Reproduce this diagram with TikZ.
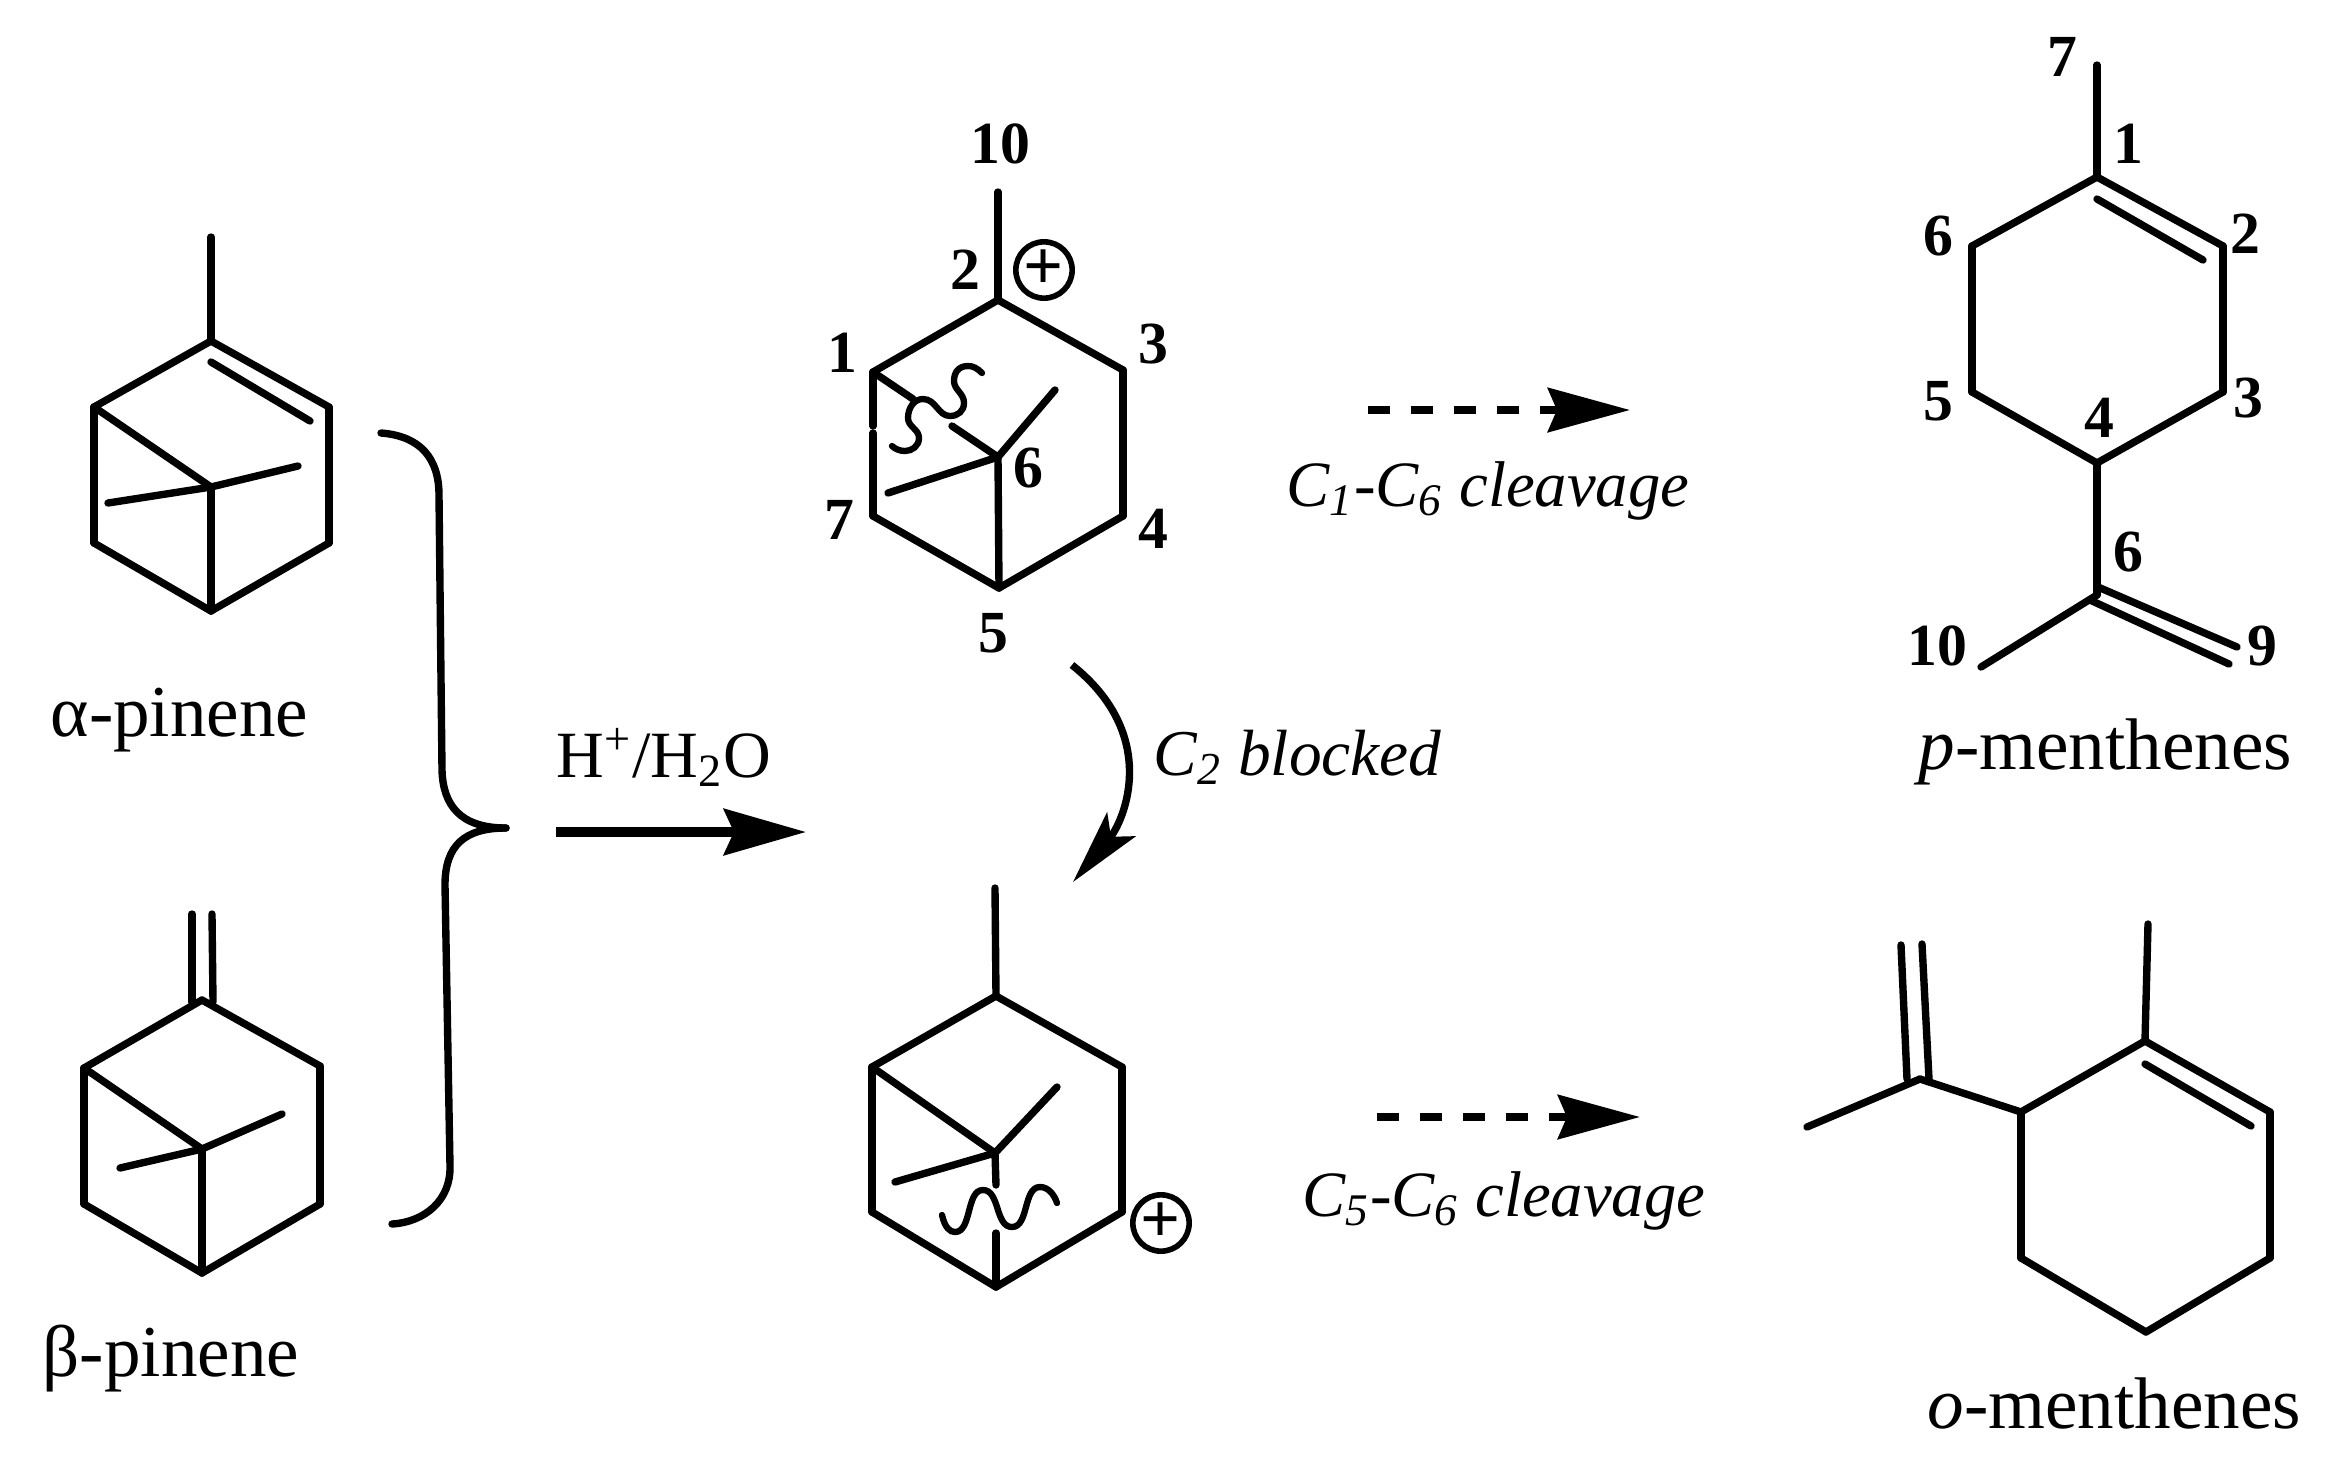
\documentclass[tikz,border=0pt]{standalone}
\usepackage{fontspec}
\setmainfont{Liberation Serif}
\usetikzlibrary{arrows.meta}
\tikzset{
  bond/.style={line width=2.1pt,line cap=round,line join=round},
  wave/.style={line width=1.8pt,line cap=round},
  dashedarrow/.style={line width=2.3pt,dash pattern=on 2.2mm off 2.1mm,-{Stealth[length=8.2mm,width=4.4mm,inset=0.9mm]}},
  num/.style={inner sep=0pt,font=\fontsize{17}{20}\selectfont\bfseries},
  molname/.style={inner sep=0pt,anchor=base west,font=\fontsize{20.8}{24}\selectfont},
  cleave/.style={inner sep=0pt,anchor=base west,font=\fontsize{18.4}{22}\selectfont\itshape},
  charge/.style={circle,draw,line width=1.6pt,minimum size=5.2mm,inner sep=0pt,font=\fontsize{20}{20}\selectfont\bfseries}
}
\begin{document}
\begin{tikzpicture}[x=0.1mm,y=-0.1mm]
\useasboundingbox (0,0) rectangle (2335,1473);
% alpha-pinene
\coordinate (a0) at (211,237);
\coordinate (a1) at (211,341);
\coordinate (a2) at (329,407);
\coordinate (a3) at (329,543);
\coordinate (a4) at (211,611);
\coordinate (a5) at (94,543);
\coordinate (a6) at (94,407);
\coordinate (a7) at (211,487);
\coordinate (a8) at (298,466);
\coordinate (a9) at (108,503);
\coordinate (a10) at (211,362);
\coordinate (a11) at (310,421);
\foreach \from/\to in {a0/a1,a1/a2,a2/a3,a3/a4,a4/a5,a5/a6,a6/a1,a6/a7,a7/a4,a7/a8,a7/a9,a10/a11}
  \draw[bond] (\from) -- (\to);
\node[molname] (alpha) at (50,736) {α-pinene};
% beta-pinene
\coordinate (b1) at (202,1000);
\coordinate (b2) at (320,1066);
\coordinate (b3) at (320,1204);
\coordinate (b4) at (202,1273);
\coordinate (b5) at (84,1204);
\coordinate (b6) at (84,1068);
\coordinate (b7) at (202,1149);
\coordinate (b8) at (282,1114);
\coordinate (b9) at (120,1168);
\coordinate (b10) at (192,914);
\coordinate (b11) at (192,1002);
\coordinate (b12) at (212,914);
\coordinate (b13) at (213,1002);
\foreach \from/\to in {b1/b2,b2/b3,b3/b4,b4/b5,b5/b6,b6/b1,b6/b7,b7/b4,b7/b8,b7/b9,b10/b11,b12/b13}
  \draw[bond] (\from) -- (\to);
\node[molname] (beta) at (42,1376) {β-pinene};
% brace
\coordinate (k1) at (381,433);
\coordinate (k2) at (439,495);
\coordinate (k3) at (442,770);
\coordinate (k4) at (506,828);
\coordinate (k5) at (445,885);
\coordinate (k6) at (450,1166);
\coordinate (k7) at (392,1224);
\draw[bond] (k1) .. controls (420,436) and (439,458) .. (k2) -- (k3) .. controls (443,805) and (460,828) .. (k4);
\draw[bond] (k4) .. controls (465,828) and (445,845) .. (k5) -- (k6) .. controls (451,1200) and (425,1222) .. (k7);
% acid step
\coordinate (m1) at (556,832);
\coordinate (m2) at (806,832);
\draw[line width=2.6pt,-{Stealth[length=8.2mm,width=4.6mm,inset=1mm]}] (m1) -- (m2);
\node[inner sep=0pt,anchor=base west,font=\fontsize{18.8}{22}\selectfont] (acid) at (556,777) {H\textsuperscript{+}/H\textsubscript{2}O};
% upper cation
\coordinate (c0) at (998,192);
\coordinate (c2) at (998,300);
\coordinate (c3) at (1123,370);
\coordinate (c4) at (1123,516);
\coordinate (c5) at (999,588);
\coordinate (c7) at (873,516);
\coordinate (c1) at (873,372);
\coordinate (c6) at (998,457);
\coordinate (c8) at (1055,390);
\coordinate (c9) at (888,493);
\coordinate (g1) at (873,426);
\coordinate (g2) at (873,433);
\coordinate (g3) at (913,399);
\coordinate (g4) at (952,426);
\foreach \from/\to in {c0/c2,c2/c3,c3/c4,c4/c5,c5/c7,c7/g2,g1/c1,c1/c2,c1/g3,g4/c6,c6/c5,c6/c8,c6/c9}
  \draw[bond] (\from) -- (\to);
\draw[wave] (982,373) .. controls (977,368) and (973,366) .. (968,366) .. controls (958,366) and (954,373) .. (954,381) .. controls (954,390) and (964,393) .. (964,403) .. controls (964,411) and (958,416) .. (950,416) .. controls (938,416) and (936,399) .. (923,399) .. controls (914,399) and (908,408) .. (908,418) .. controls (908,427) and (919,429) .. (919,438) .. controls (919,446) and (912,451) .. (905,451) .. controls (900,451) and (895,449) .. (892,446);
\node[charge] (plus1) at (1044,270) {+};
\node[num] (u10) at (1000,144) {10};
\node[num] (u2) at (965,270) {2};
\node[num] (u1) at (842,353) {1};
\node[num] (u3) at (1153,344) {3};
\node[num] (u6) at (1028,468) {6};
\node[num] (u7) at (839,520) {7};
\node[num] (u4) at (1153,529) {4};
\node[num] (u5) at (993,633) {5};
% rearrangement
\coordinate (r1) at (1072,665);
\coordinate (r2) at (1073,882);
\draw[line width=2.1pt,-{Stealth[length=7.5mm,width=3.7mm,inset=1.6mm]}] (r1) .. controls (1160,735) and (1125,820) .. (r2);
\node[cleave,font=\fontsize{18.6}{22}\selectfont\itshape] (blocked) at (1153,775) {C\textsubscript{2} blocked};
% lower cation
\coordinate (d0) at (995,888);
\coordinate (d1) at (996,996);
\coordinate (d2) at (1122,1067);
\coordinate (d3) at (1122,1212);
\coordinate (d4) at (996,1287);
\coordinate (d5) at (872,1212);
\coordinate (d6) at (872,1067);
\coordinate (d7) at (995,1153);
\coordinate (d8) at (1057,1087);
\coordinate (d9) at (895,1182);
\coordinate (h1) at (996,1185);
\coordinate (h2) at (996,1233);
\foreach \from/\to in {d0/d1,d1/d2,d2/d3,d3/d4,d4/d5,d5/d6,d6/d1,d6/d7,d7/d8,d7/d9,d7/h1,h2/d4}
  \draw[bond] (\from) -- (\to);
\draw[wave] (942,1215) .. controls (945,1228) and (950,1232) .. (955,1232) .. controls (972,1232) and (966,1190) .. (983,1190) .. controls (1000,1190) and (995,1227) .. (1012,1227) .. controls (1029,1227) and (1023,1187) .. (1040,1187) .. controls (1048,1187) and (1054,1194) .. (1057,1203);
\node[charge] (plus2) at (1161,1223) {+};
% cleavage arrows
\coordinate (e1) at (1368,410);
\coordinate (e2) at (1630,410);
\draw[dashedarrow] (e1) -- (e2);
\node[cleave] (upcut) at (1286,506) {C\textsubscript{1}-C\textsubscript{6} cleavage};
\coordinate (f1) at (1377,1117);
\coordinate (f2) at (1640,1117);
\draw[dashedarrow] (f1) -- (f2);
\node[cleave] (lowcut) at (1302,1216) {C\textsubscript{5}-C\textsubscript{6} cleavage};
% p-menthene
\coordinate (p0) at (2097,65);
\coordinate (p1) at (2097,177);
\coordinate (p2) at (2223,246);
\coordinate (p3) at (2223,392);
\coordinate (p4) at (2097,463);
\coordinate (p5) at (1972,392);
\coordinate (p6) at (1972,246);
\coordinate (p7) at (2097,199);
\coordinate (p8) at (2203,260);
\coordinate (p9) at (2097,595);
\coordinate (p10) at (1981,667);
\coordinate (p11) at (2098,587);
\coordinate (p12) at (2237,647);
\coordinate (p13) at (2090,600);
\coordinate (p14) at (2229,664);
\foreach \from/\to in {p0/p1,p1/p2,p2/p3,p3/p4,p4/p5,p5/p6,p6/p1,p7/p8,p4/p9,p9/p10,p11/p12,p13/p14}
  \draw[bond] (\from) -- (\to);
\node[num] (t7) at (2062,57) {7};
\node[num] (t1) at (2128,144) {1};
\node[num] (t2) at (2245,234) {2};
\node[num] (t6) at (1938,236) {6};
\node[num] (t5) at (1938,401) {5};
\node[num] (t3) at (2248,398) {3};
\node[num] (t4) at (2099,418) {4};
\node[num] (t6b) at (2128,552) {6};
\node[num] (t10) at (1937,646) {10};
\node[num] (t9) at (2262,646) {9};
\node[molname] (pname) at (1918,769) {\textit{p}-menthenes};
% o-menthene
\coordinate (o0) at (2148,924);
\coordinate (o1) at (2145,1041);
\coordinate (o2) at (2270,1112);
\coordinate (o3) at (2270,1258);
\coordinate (o4) at (2146,1332);
\coordinate (o5) at (2021,1258);
\coordinate (o6) at (2021,1112);
\coordinate (o7) at (2145,1064);
\coordinate (o8) at (2251,1126);
\coordinate (o9) at (1920,1079);
\coordinate (o10) at (1807,1127);
\coordinate (o11) at (1901,945);
\coordinate (o12) at (1907,1079);
\coordinate (o13) at (1922,944);
\coordinate (o14) at (1929,1079);
\foreach \from/\to in {o0/o1,o1/o2,o2/o3,o3/o4,o4/o5,o5/o6,o6/o1,o7/o8,o6/o9,o9/o10,o11/o12,o13/o14}
  \draw[bond] (\from) -- (\to);
\node[molname] (oname) at (1927,1428) {\textit{o}-menthenes};
\end{tikzpicture}
\end{document}
